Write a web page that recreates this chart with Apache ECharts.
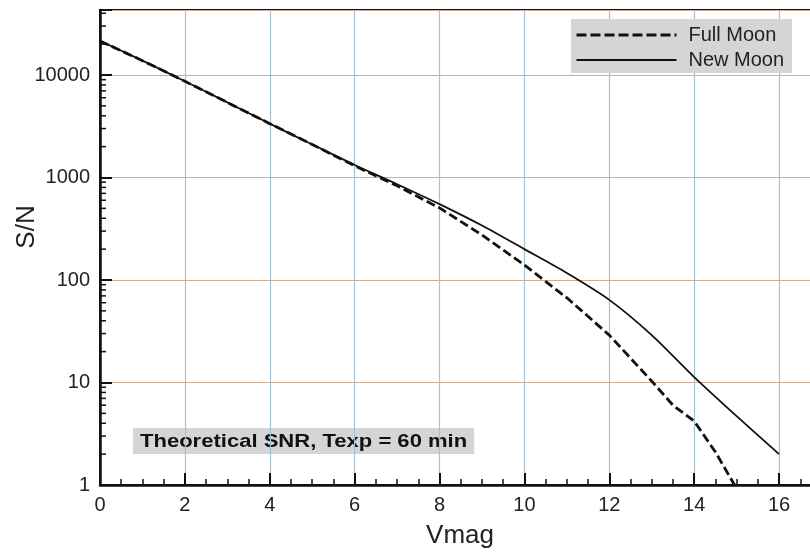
<!DOCTYPE html>
<html>
<head>
<meta charset="utf-8">
<script src="https://cdn.jsdelivr.net/npm/echarts@6/dist/echarts.min.js"></script>
<style>html,body{margin:0;padding:0;background:#fff}#c{width:810px;height:555px}</style>
</head>
<body>
<div id="c"></div>
<script>
// ---- data ----
const vmagNew = [0, 1, 2, 3, 4, 5, 6, 7, 8, 9, 10, 11, 12, 13, 14, 15, 16];
const snrNew  = [21500, 13800, 8700, 5400, 3350, 2100, 1325, 860, 550, 340, 200, 117, 64, 29, 11.3, 4.7, 2.0];
const vmagFull = [0, 1, 2, 3, 4, 5, 6, 7, 8, 9, 10, 11, 12, 13, 13.5, 14, 14.5, 14.95];
const snrFull  = [21500, 13800, 8700, 5400, 3350, 2100, 1300, 830, 505, 275, 140, 67, 29, 10.3, 6.0, 4.2, 2.1, 1.0];
const seriesNames = ['Full Moon', 'New Moon'];
const xTicks = [0, 2, 4, 6, 8, 10, 12, 14, 16];
const yTicks = [1, 10, 100, 1000, 10000];
const yMinorMultipliers = [2, 3, 4, 5, 6, 7, 8, 9];
const annotation = 'Theoretical SNR, Texp = 60 min';
const xName = 'Vmag';
const yName = 'S/N';

const Y_MAX = 43050;
const minorVals = [];
yTicks.forEach(d => yMinorMultipliers.forEach(m => { if (d * m < Y_MAX) minorVals.push([0, d * m]); }));

const chart = echarts.init(document.getElementById('c'), null, {renderer: 'canvas'});
const FONT = 'Liberation Sans, Arial, Helvetica, sans-serif';
chart.setOption({
  backgroundColor: '#fff',
  animation: false,
  grid: {left: 100, top: 10, width: 721.5, height: 475, show: true, borderColor: '#111', borderWidth: 2,
    outerBoundsMode: 'none', containLabel: false},
  legend: {
    data: [
      {name: seriesNames[0], lineStyle: {width: 3, type: [10, 4], color: '#111'}},
      {name: seriesNames[1], lineStyle: {width: 2, color: '#111'}}
    ],
    orient: 'vertical', left: 571, top: 19,
    backgroundColor: '#d5d5d5', itemWidth: 100, itemHeight: 14, itemGap: 5,
    padding: [6, 8, 3, 4],
    itemStyle: {opacity: 0},
    textStyle: {fontSize: 20, color: '#222', fontFamily: FONT, lineHeight: 20, padding: [0, 0, 0, 7]}
  },
  xAxis: {
    type: 'value', min: 0, max: 17, interval: 2,
    axisLine: {lineStyle: {color: '#111', width: 2.5}},
    axisTick: {inside: true, length: 12, lineStyle: {color: '#111', width: 2}},
    minorTick: {show: true, splitNumber: 4, length: 6, lineStyle: {color: '#111', width: 1.5}},
    axisLabel: {fontSize: 20, color: '#222', fontFamily: FONT, margin: 10,
      formatter: v => (xTicks.indexOf(v) >= 0 ? String(v) : '')},
    splitLine: {show: true, lineStyle: {color: '#aabfce', width: 1.2}}
  },
  yAxis: {
    type: 'log', logBase: 10, min: 1, max: Y_MAX,
    axisLine: {lineStyle: {color: '#111', width: 2.5}},
    axisTick: {inside: true, length: 12, lineStyle: {color: '#111', width: 2}},
    axisLabel: {fontSize: 20, color: '#222', fontFamily: FONT, margin: 10,
      formatter: v => { const r = yTicks.find(t => Math.abs(t - v) / t < 1e-6); return r ? String(r) : ''; }},
    splitLine: {show: true, lineStyle: {color: '#d2aa98', width: 1.2}}
  },
  series: [
    {
      name: seriesNames[0], type: 'line', symbol: 'none', smooth: false,
      itemStyle: {color: '#111'},
      data: vmagFull.map((x, i) => [x, snrFull[i]]),
      lineStyle: {color: '#111', width: 2.8, type: [9, 4]}, z: 3
    },
    {
      name: seriesNames[1], type: 'line', symbol: 'none', smooth: 0.25,
      itemStyle: {color: '#111'},
      data: vmagNew.map((x, i) => [x, snrNew[i]]),
      lineStyle: {color: '#111', width: 1.8}, z: 3
    },
    {
      type: 'custom', silent: true, clip: false, z: 5,
      data: minorVals,
      renderItem: (params, api) => {
        const p = api.coord([api.value(0), api.value(1)]);
        return {type: 'line', shape: {x1: p[0], y1: p[1], x2: p[0] + 6, y2: p[1]},
          style: {stroke: '#111', lineWidth: 1.5}};
      }
    }
  ],
  graphic: [
    {type: 'text', left: 133, top: 428, scaleX: 1.16,
      style: {text: annotation, font: 'bold 19px ' + FONT, fill: '#111',
        backgroundColor: '#d5d5d5', padding: [4, 6, 3, 6]}},
    {type: 'text', x: 460, y: 536,
      style: {text: xName, font: '26px ' + FONT, fill: '#222', align: 'center', verticalAlign: 'middle'}},
    {type: 'text', x: 27, y: 227, rotation: Math.PI / 2,
      style: {text: yName, font: '26px ' + FONT, fill: '#222', align: 'center', verticalAlign: 'middle'}}
  ]
});
</script>
</body>
</html>
